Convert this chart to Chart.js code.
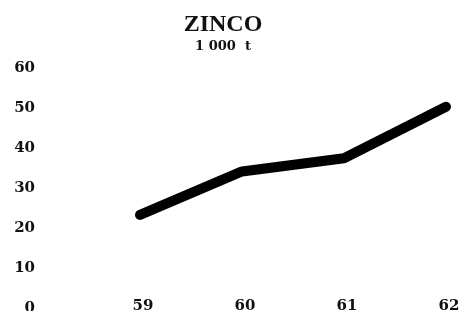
<!DOCTYPE html>
<html>
<head>
<meta charset="utf-8">
<script src="https://cdn.jsdelivr.net/npm/chart.js@4"></script>
<style>
  body { margin: 0; background: #fff; }
  #wrap { width: 475px; height: 311px; position: relative; }
</style>
</head>
<body>
<div id="wrap"><canvas id="zincoChart"></canvas></div>
<script>
// Data
const years = ['59', '60', '61', '62'];
const zinco = [23.3, 34.2, 37.5, 50.4];
const yMin = 0;
const yMax = 60;
const yStep = 10;

const ink = '#111';

const ctx = document.getElementById('zincoChart').getContext('2d');
const chart = new Chart(ctx, {
    type: 'line',
    data: {
        labels: years,
        datasets: [{
            data: zinco,
            borderColor: '#000',
            borderWidth: 10,
            borderCapStyle: 'round',
            borderJoinStyle: 'round',
            pointRadius: 0,
            tension: 0,
            fill: false,
            clip: false
        }]
    },
    options: {
        responsive: true,
        maintainAspectRatio: false,
        animation: false,
        layout: {
            padding: { left: 0, right: 29, top: 0, bottom: 0 }
        },
        plugins: {
            legend: { display: false },
            tooltip: { enabled: false },
            title: {
                display: true,
                text: 'ZINCO',
                color: ink,
                font: { family: 'Liberation Serif', size: 24, weight: 'bold' },
                padding: { top: 10, bottom: 0 }
            },
            subtitle: {
                display: true,
                text: '1 000  t',
                color: ink,
                font: { family: 'DejaVu Serif', size: 13, weight: 'bold' },
                padding: { top: 0, bottom: 14 }
            }
        },
        scales: {
            x: {
                offset: false,
                grid: { display: false, drawTicks: false },
                border: { display: false },
                ticks: {
                    color: ink,
                    // mirror keeps the labels unclipped so they can sit on the "0" row
                    mirror: true,
                    padding: -7,
                    labelOffset: 3,
                    maxRotation: 0,
                    font: { family: 'DejaVu Serif', size: 15, weight: 'bold' }
                },
                afterFit: function(scale) {
                    scale.height = 3;
                    scale.paddingLeft = 0;
                    scale.paddingRight = 0;
                }
            },
            y: {
                min: yMin,
                max: yMax,
                grid: { display: false, drawTicks: false },
                border: { display: false },
                ticks: {
                    stepSize: yStep,
                    color: ink,
                    padding: 105,
                    font: { family: 'DejaVu Serif', size: 15, weight: 'bold' }
                },
                afterFit: function(scale) {
                    scale.width = 140;
                    scale.paddingTop = 0;
                    scale.paddingBottom = 0;
                }
            }
        }
    }
});
</script>
</body>
</html>
